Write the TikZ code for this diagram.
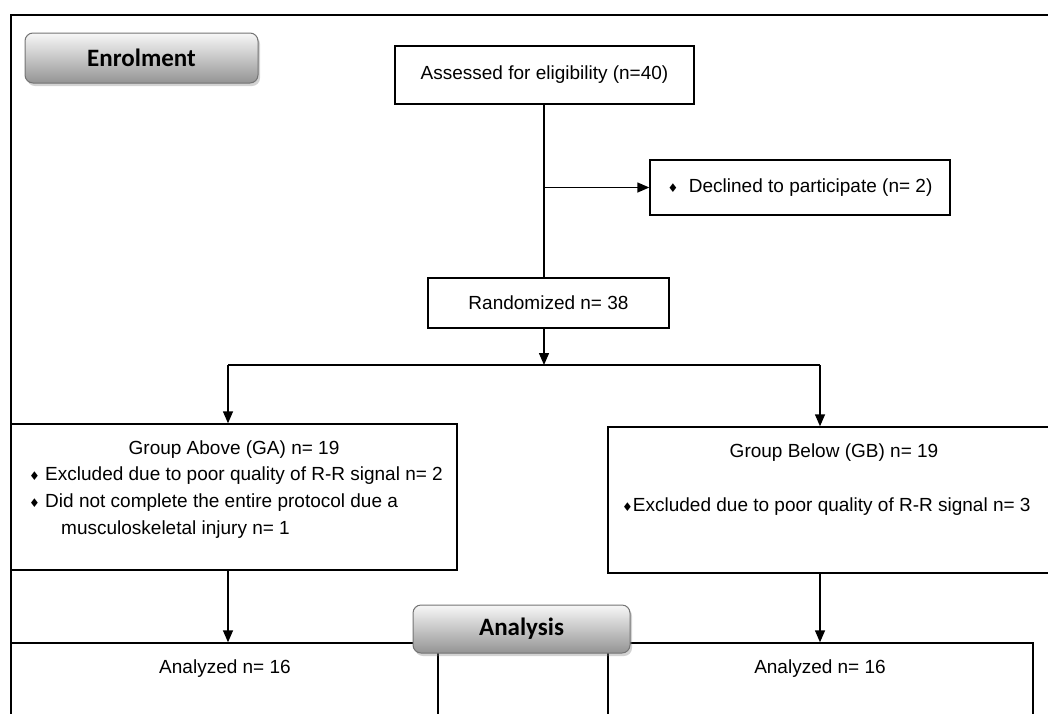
\documentclass[tikz,border=0pt]{standalone}
\usepackage{fontspec}
\setmainfont{Liberation Sans}
\newfontfamily\btnfont{Carlito}
\newfontfamily\symfont{DejaVu Sans}
\usetikzlibrary{shapes.geometric,arrows.meta,shadows}
\tikzstyle{process} = [rectangle, draw = black, line width=1.4pt, fill = white, inner sep=0pt, font=\fontsize{19}{22}\selectfont]
\tikzstyle{txt} = [inner sep=0pt, font=\fontsize{19}{22}\selectfont]
\tikzstyle{phase} = [rectangle, rounded corners=8pt, draw = black!55, line width=1pt, top color=black!3, bottom color=black!42, drop shadow={shadow xshift=2pt, shadow yshift=-3pt, opacity=0.35}, font=\btnfont\bfseries\fontsize{25}{28}\selectfont]
\tikzstyle{arrow} = [line width=1.4pt,-{Triangle[length=12pt,width=10pt]}]
\newcommand{\dmd}{{\symfont\fontsize{12}{12}\selectfont ♦}}

\begin{document}
\begin{tikzpicture}[x=1pt, y=-1pt]
\useasboundingbox (0,0) rectangle (1048,713);
\clip (0,0) rectangle (1048,713);

\draw[line width=1.4pt] (11,15) rectangle (1080,760);

\node(assess) [process, minimum width=299, minimum height=58] at (544.5,75) {Assessed for eligibility (n=40)};
\node(decline) [process, minimum width=300, minimum height=55] at (800,187.5) {\dmd\ \ Declined to participate (n= 2)};
\node(random) [process, minimum width=241, minimum height=50] at (548.5,303) {Randomized n= 38};
\node(groupA) [process, minimum width=446, minimum height=146] at (234,497) {};
\node(groupB) [process, minimum width=446, minimum height=146] at (831,500) {};
\node(analysA) [process, minimum width=427, minimum height=160] at (224.5,723) {};
\node(analysB) [process, minimum width=425, minimum height=160] at (820.5,723) {};

\node(gAtitle) [txt] at (234,450) {Group Above (GA) n= 19};
\node(gAex) [txt, anchor=west] at (29,476) {\dmd\ Excluded due to poor quality of R-R signal n= 2};
\node(gAinj) [txt, anchor=west] at (29,503) {\dmd\ Did not complete the entire protocol due a};
\node(gAinj2) [txt, anchor=west] at (61,530) {musculoskeletal injury n= 1};
\node(gBtitle) [txt] at (834,453) {Group Below (GB) n= 19};
\node(gBex) [txt, anchor=west] at (622,507) {\dmd Excluded due to poor quality of R-R signal n= 3};
\node(aAtext) [txt] at (225,669) {Analyzed n= 16};
\node(aBtext) [txt] at (820,669) {Analyzed n= 16};

\coordinate(split) at (544,365);
\coordinate(splitL) at (228,365);
\coordinate(splitR) at (820,365);

\draw [line width=1.4pt] (assess.south -| split) -- (random.north -| split);
\draw [arrow] (split |- decline.west) -- (decline.west);
\draw [arrow] (random.south -| split) -- (split);
\draw [line width=1.4pt] (splitL) -- (splitR);
\draw [arrow] (splitL) -- (splitL |- groupA.north);
\draw [arrow] (splitR) -- (splitR |- groupB.north);
\draw [arrow] (splitL |- groupA.south) -- (splitL |- analysA.north);
\draw [arrow] (splitR |- groupB.south) -- (splitR |- analysB.north);

\node(enrol) [phase, minimum width=233, minimum height=50] at (141.5,58) {Enrolment};
\node(analysis) [phase, minimum width=217, minimum height=48] at (521.5,629) {Analysis};

\end{tikzpicture}
\end{document}
